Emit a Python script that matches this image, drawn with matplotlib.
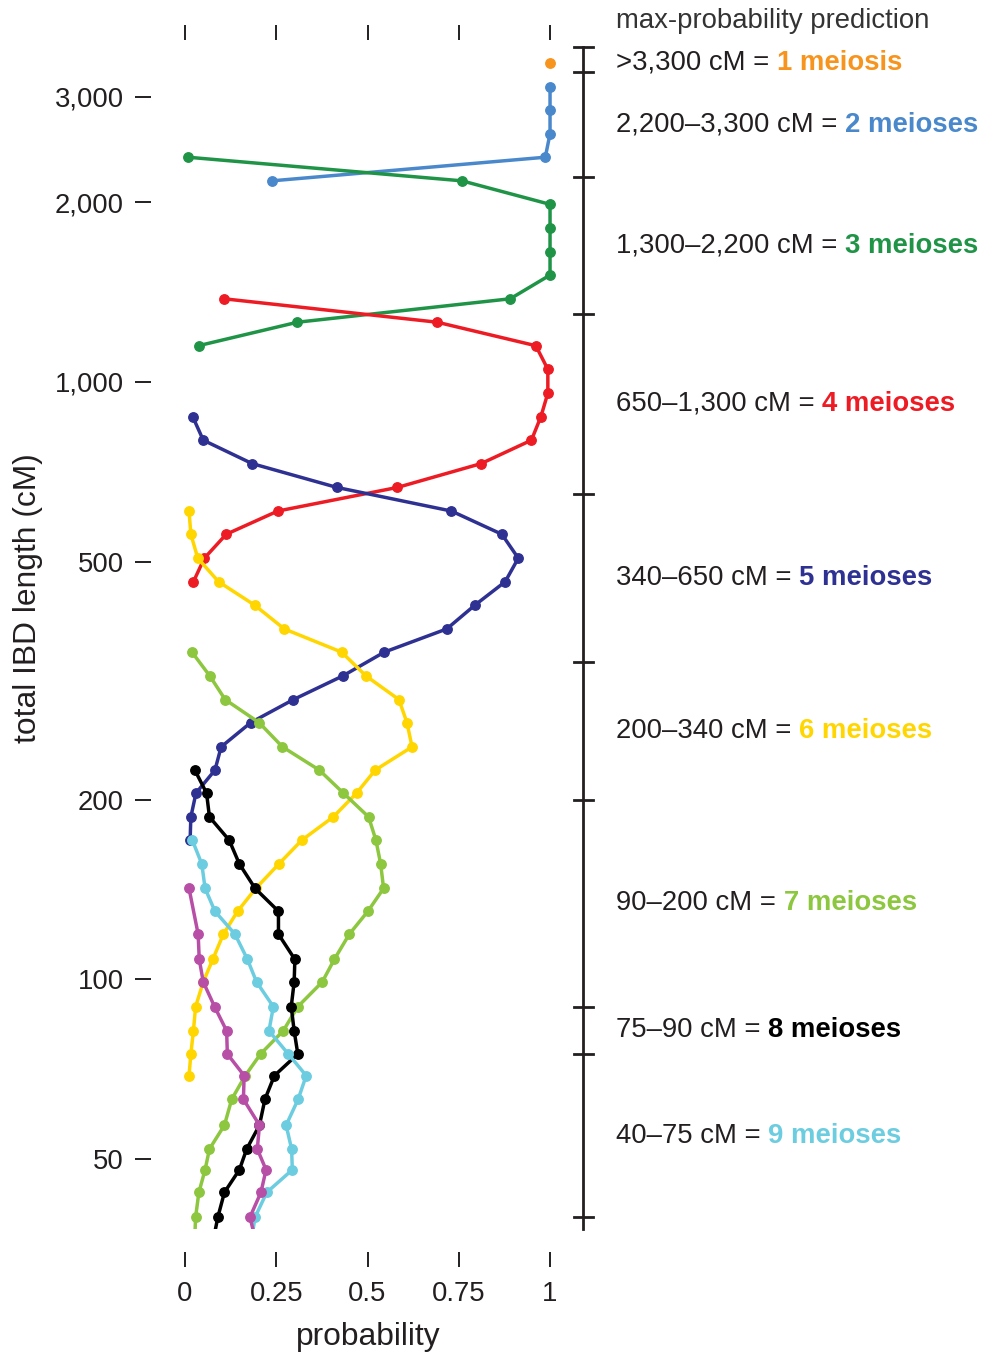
import numpy as np
import matplotlib
matplotlib.use('Agg')
import matplotlib.pyplot as plt
import matplotlib.ticker as ticker
import matplotlib.transforms as mtransforms

plt.rcParams['font.family'] = ['Liberation Sans', 'DejaVu Sans']

#Bin centres of total IBD length (cM), top bin first
ibd_cm = [3420, 3123, 2852, 2604, 2378, 2171, 1983, 1810, 1653, 1510,
          1378, 1259, 1150, 1050, 958, 875, 799, 730, 666, 608,
          556, 507, 463, 423, 386, 353, 322, 294, 269, 245,
          224, 205, 187, 171, 156, 142, 130, 119, 108, 99,
          90, 82, 75, 69, 63, 57, 52, 48, 44, 40, 36]

#Probability of each number of meioses, listed from the first bin the curve reaches
prob_1 = [1.0]
prob_2 = [1.0, 1.0, 1.0, 0.987, 0.238]
prob_3 = [0.008, 0.759, 1.0, 1.0, 1.0, 1.0, 0.891, 0.308, 0.037]
prob_4 = [0.107, 0.691, 0.961, 0.994, 0.994, 0.975, 0.949, 0.811, 0.582, 0.254,
          0.113, 0.053, 0.023]
prob_5 = [0.021, 0.050, 0.184, 0.416, 0.730, 0.868, 0.913, 0.877, 0.794, 0.717,
          0.546, 0.432, 0.297, 0.180, 0.099, 0.082, 0.030, 0.016, 0.014]
prob_6 = [0.011, 0.016, 0.035, 0.092, 0.191, 0.272, 0.429, 0.496, 0.586, 0.608,
          0.622, 0.521, 0.470, 0.406, 0.320, 0.257, 0.194, 0.144, 0.105, 0.076,
          0.050, 0.029, 0.023, 0.016, 0.011]
prob_7 = [0.019, 0.068, 0.110, 0.203, 0.267, 0.368, 0.434, 0.503, 0.523, 0.536,
          0.544, 0.501, 0.450, 0.409, 0.376, 0.309, 0.269, 0.207, 0.165, 0.128,
          0.108, 0.067, 0.055, 0.038, 0.029, 0.026]
prob_8 = [0.027, 0.059, 0.067, 0.121, 0.149, 0.192, 0.256, 0.256, 0.301, 0.299,
          0.291, 0.299, 0.309, 0.245, 0.219, 0.204, 0.169, 0.149, 0.108, 0.090,
          0.075]
prob_9 = [0.020, 0.046, 0.055, 0.082, 0.137, 0.171, 0.196, 0.242, 0.230, 0.283,
          0.332, 0.310, 0.277, 0.292, 0.294, 0.224, 0.192, 0.180]
prob_10 = [0.011, None, 0.036, 0.039, 0.050, 0.081, 0.114, 0.116, 0.162, 0.160,
           0.204, 0.198, 0.222, 0.208, 0.178, 0.196]

curves = [prob_1, prob_2, prob_3, prob_4, prob_5, prob_6, prob_7, prob_8, prob_9, prob_10]
first_bin = [0, 1, 4, 10, 15, 19, 25, 30, 33, 35]
colors = ['#f7941d', '#4a88cc', '#1f9447', '#ed1c24', '#2e3192', '#ffd600',
          '#8dc63f', '#000000', '#6ccde0', '#b84fa6']

#Ranges of the max-probability prediction
cut_cm = [3300, 2200, 1300, 650, 340, 200, 90, 75, 40]
range_text = ['>3,300 cM = ', '2,200\u20133,300 cM = ', '1,300\u20132,200 cM = ',
              '650\u20131,300 cM = ', '340\u2013650 cM = ', '200\u2013340 cM = ',
              '90\u2013200 cM = ', '75\u201390 cM = ', '40\u201375 cM = ']
meiosis_text = ['1 meiosis', '2 meioses', '3 meioses', '4 meioses', '5 meioses',
                '6 meioses', '7 meioses', '8 meioses', '9 meioses']

cm_ticks = [50, 100, 200, 500, 1000, 2000, 3000]
cm_labels = ['50', '100', '200', '500', '1,000', '2,000', '3,000']
prob_ticks = [0, 0.25, 0.5, 0.75, 1]
prob_labels = ['0', '0.25', '0.5', '0.75', '1']

y_lo, y_hi = 38.2, 3637
ink = '#231f20'
fs = 19.8

fig = plt.figure(figsize=(9.84, 13.54), dpi=100)
ax = fig.add_axes([0.1806, 0.0923, 0.3858, 0.8730])
ax.set_yscale('log')

for probs, start, col in zip(curves, first_bin, colors):
    x = np.array(probs, dtype=float)
    y = np.array(ibd_cm[start:start + len(probs)], dtype=float)
    keep = ~np.isnan(x)
    ax.plot(x[keep], y[keep], '-o', color=col, lw=2.5, ms=6.8,
            solid_joinstyle='round', solid_capstyle='round')

#Bar on the right marking the prediction ranges
trans = mtransforms.blended_transform_factory(ax.transAxes, ax.transData)
bar_x = 1.0685
ax.plot([bar_x, bar_x], [y_lo, y_hi], transform=trans, clip_on=False, color=ink, lw=2)
for b in [y_hi] + cut_cm:
    ax.plot([bar_x - 0.025, bar_x + 0.025], [b, b], transform=trans, clip_on=False,
            color=ink, lw=2)

#Labels sit midway (in log) between the range limits; the top one level with its dot
bounds = [y_hi] + cut_cm
for i in range(len(range_text)):
    ymid = np.sqrt(bounds[i] * bounds[i + 1]) if i > 0 else ibd_cm[0]
    t = ax.text(1.1546, ymid, range_text[i], transform=trans, fontsize=fs,
                color=ink, ha='left', va='center')
    ax.annotate(meiosis_text[i], xy=(1, 0), xycoords=t, xytext=(0, 0),
                textcoords='offset points', ha='left', va='bottom', fontsize=fs,
                fontweight='bold', color=colors[i])

ax.text(1.1546, 1.0222, 'max-probability prediction', transform=ax.transAxes,
        fontsize=fs, color='#333333', ha='left', va='center')

ax.set_xlim(-0.02, 1.02)
ax.set_ylim(y_lo, y_hi)
ax.set_xticks(prob_ticks, prob_labels)
ax.set_yticks(cm_ticks, cm_labels)
ax.yaxis.set_minor_locator(ticker.NullLocator())

for s in ax.spines.values():
    s.set_visible(False)
ax.spines['left'].set_position(('outward', 19.2))
ax.spines['bottom'].set_position(('outward', 16.6))
ax.spines['top'].set_position(('outward', 5))

ax.tick_params(axis='x', top=True, bottom=True, labeltop=False, length=10.8,
               width=1.4, pad=10, labelsize=fs, color=ink, labelcolor=ink)
ax.tick_params(axis='y', length=11.5, width=1.4, pad=7.9, labelsize=fs,
               color=ink, labelcolor=ink)

ax.set_xlabel('probability', fontsize=22.9, color=ink)
ax.xaxis.set_label_coords(0.501, -0.0914)
ax.xaxis.label.set_va('center')
ax.set_ylabel('total IBD length (cM)', fontsize=22.9, color=ink)
ax.yaxis.set_label_coords(-0.394, 0.534)
ax.yaxis.label.set_va('center')

plt.savefig('out.png', dpi=100)
